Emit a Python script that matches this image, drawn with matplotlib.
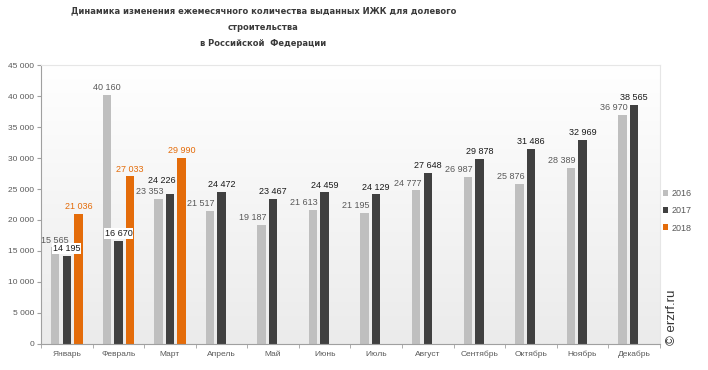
import numpy as np
import matplotlib.pyplot as plt

months = ["Январь", "Февраль", "Март", "Апрель", "Май", "Июнь", "Июль",
          "Август", "Сентябрь", "Октябрь", "Ноябрь", "Декабрь"]
v2016 = [15565, 40160, 23353, 21517, 19187, 21613, 21195, 24777, 26987, 25876, 28389, 36970]
v2017 = [14195, 16670, 24226, 24472, 23467, 24459, 24129, 27648, 29878, 31486, 32969, 38565]
v2018 = [21036, 27033, 29990]

c16, c17, c18 = "#bfbfbf", "#404040", "#e46c0a"
plt.rcParams['font.family'] = ['Liberation Sans', 'DejaVu Sans']

fig = plt.figure(figsize=(7.08, 3.70), dpi=100)
ax = fig.add_axes([0.058, 0.0703, 0.874, 0.754])

x = np.arange(len(months))
w = 0.165
off = 0.225

# background gradient (white -> light grey)
grad = np.linspace(0, 1, 256).reshape(-1, 1)
ax.imshow(grad, extent=[-0.5, 11.5, 0, 45000], aspect='auto', origin='upper',
          cmap=plt.matplotlib.colors.LinearSegmentedColormap.from_list("g", ["#ffffff", "#ebebeb"]),
          zorder=0)

b16 = ax.bar(x - off, v2016, w, color=c16, label="2016", zorder=2)
b17 = ax.bar(x, v2017, w, color=c17, label="2017", zorder=2)
b18 = ax.bar(x[:len(v2018)] + off, v2018, w, color=c18, label="2018", zorder=2)

def fmt(v):
    return f"{v:,}".replace(",", " ")

for i, v in enumerate(v2016):
    if i < 2:
        ax.annotate(fmt(v), (x[i] - off, v), xytext=(0, 2), textcoords="offset points",
                    ha="center", va="bottom", fontsize=6.5, color="#595959", zorder=4)
    else:
        ax.annotate(fmt(v), (x[i] - off, v), xytext=(3.5, 2), textcoords="offset points",
                    ha="right", va="bottom", fontsize=6.5, color="#595959", zorder=4)
for i, v in enumerate(v2017):
    box = None
    if i < 2:
        box = dict(boxstyle="square,pad=0.1", fc="white", ec="none")
    dx, dy = (-6, 6) if i == 2 else (0, 2)
    ax.annotate(fmt(v), (x[i], v), xytext=(dx, dy), textcoords="offset points",
                ha="center", va="bottom", fontsize=6.5, color="#1a1a1a", zorder=5, bbox=box)
for i, v in enumerate(v2018):
    ax.annotate(fmt(v), (x[i] + off, v), xytext=(0, 2), textcoords="offset points",
                ha="center", va="bottom", fontsize=6.5, color=c18, zorder=4)

ax.set_xlim(-0.5, 11.5)
ax.set_ylim(0, 45000)
yt = np.arange(0, 45001, 5000)
ax.set_yticks(yt)
ax.set_yticklabels([fmt(int(t)) for t in yt], fontsize=6, color="#595959")
ax.set_xticks(x)
ax.set_xticklabels(months, fontsize=6, color="#595959")
ax.set_xticks(np.arange(-0.5, 12, 1), minor=True)
ax.tick_params(axis="x", which="major", length=0, pad=5)
ax.tick_params(axis="x", which="minor", length=3, color="#a0a0a0")
ax.tick_params(axis="y", length=3, color="#a0a0a0", pad=2)
for s in ["left", "bottom"]:
    ax.spines[s].set_color("#a0a0a0")
for s in ["top", "right"]:
    ax.spines[s].set_color("#e6e6e6")

fig.legend(handles=[b16, b17, b18], labels=["2016", "2017", "2018"],
           loc="center left", bbox_to_anchor=(0.925, 0.43), frameon=False,
           fontsize=6.5, handlelength=0.6, handleheight=0.6, handletextpad=0.3,
           labelspacing=0.9, labelcolor="#595959")

fig.text(0.372, 0.982, "Динамика изменения ежемесячного количества выданных ИЖК для долевого\nстроительства\nв Российской  Федерации",
         ha="center", va="top", fontsize=6.7, fontweight="bold", color="#3a3a3a",
         family="DejaVu Sans", fontstretch="condensed", linespacing=2.0)

fig.text(0.949, 0.068, "© erzrf.ru", rotation=90, ha="center", va="bottom",
         fontsize=9.5, color="#333333")

fig.savefig("out.png", dpi=100)
